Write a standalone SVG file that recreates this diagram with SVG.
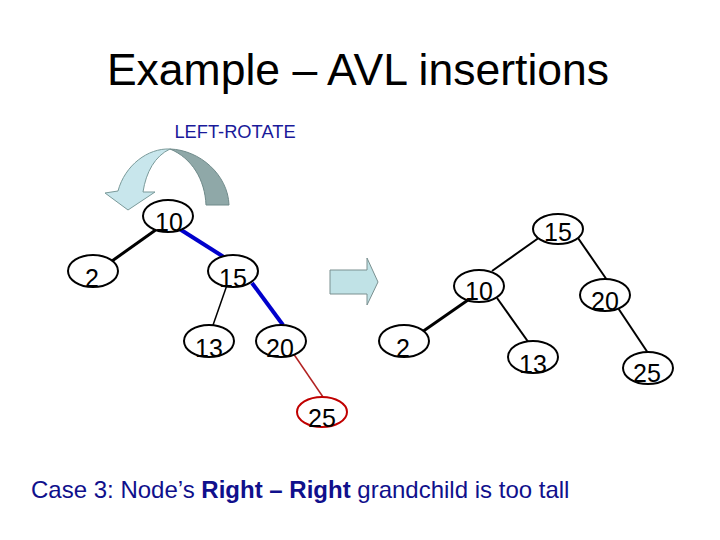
<svg xmlns="http://www.w3.org/2000/svg" width="720" height="540" viewBox="0 0 720 540">
<style>
text{font-family:"Liberation Sans",Arial,sans-serif}
.node ellipse{fill:#fff;stroke:#000;stroke-width:2}
.node text{font-size:25px;text-anchor:middle;fill:#000}
.red ellipse{stroke:#c00000}
.e{stroke:#000;stroke-width:2;fill:none}
</style>
<rect width="720" height="540" fill="#fff"/>
<text x="358" y="85" font-size="44.5" text-anchor="middle" fill="#000">Example – AVL insertions</text>
<text x="235" y="138" font-size="18.3" text-anchor="middle" fill="#1a1a9a">LEFT-ROTATE</text>
<g id="rotate-arrow">
<path d="M170,149 C200,150 228,175 229,205 L206,205 C205,180 192,158 170,149 Z" fill="#8fa8a8" stroke="#6f8a8a" stroke-width="1"/>
<path d="M170,149 C148,148 125,165 118,191 L105,193 L128,210 L155,192 L143,192 C146,172 155,156 170,149 Z" fill="#c8e6ec" stroke="#7a9a9a" stroke-width="1"/>
</g>
<g id="block-arrow">
<path d="M330,270 L367,270 L367,258 L378,282 L367,305 L367,294 L330,294 Z" fill="#c0e2e6" stroke="#7a9090" stroke-width="1"/>
</g>
<g id="connectors">
<line x1="157" y1="229" x2="112" y2="261" stroke="#000" stroke-width="3"/>
<line x1="178" y1="228" x2="227" y2="259" stroke="#0000cc" stroke-width="4"/>
<line x1="227" y1="285" x2="212" y2="328" stroke="#000" stroke-width="1.5"/>
<line x1="252" y1="283" x2="283" y2="325" stroke="#0000cc" stroke-width="4"/>
<line x1="293" y1="353" x2="323" y2="397" stroke="#b22222" stroke-width="1.5"/>
<line x1="540" y1="237" x2="492" y2="271" class="e"/>
<line x1="578" y1="238" x2="607" y2="280" class="e"/>
<line x1="468" y1="300" x2="422" y2="332" stroke="#000" stroke-width="3"/>
<line x1="497" y1="298" x2="529" y2="343" class="e"/>
<line x1="618" y1="308" x2="648" y2="353" class="e"/>
</g>
<g id="L10" class="node"><ellipse cx="168" cy="216" rx="25" ry="16"/><text x="169" y="231">10</text></g>
<g id="L2" class="node"><ellipse cx="93" cy="271" rx="25" ry="16"/><text x="92" y="287">2</text></g>
<g id="L15" class="node"><ellipse cx="233" cy="271" rx="25" ry="16"/><text x="233" y="287">15</text></g>
<g id="L13" class="node"><ellipse cx="209" cy="341" rx="25" ry="16"/><text x="209" y="357">13</text></g>
<g id="L20" class="node"><ellipse cx="281" cy="341" rx="25" ry="16"/><text x="280" y="357">20</text></g>
<g id="L25" class="node red"><ellipse cx="322" cy="412" rx="25" ry="15"/><text x="322" y="427">25</text></g>
<g id="R15" class="node"><ellipse cx="558" cy="229" rx="25" ry="15"/><text x="558" y="241">15</text></g>
<g id="R10" class="node"><ellipse cx="479" cy="286" rx="25" ry="16"/><text x="479" y="300">10</text></g>
<g id="R20" class="node"><ellipse cx="605" cy="295" rx="25" ry="16"/><text x="605" y="310">20</text></g>
<g id="R2" class="node"><ellipse cx="404" cy="341" rx="25" ry="16"/><text x="403" y="357">2</text></g>
<g id="R13" class="node"><ellipse cx="533" cy="357" rx="25" ry="16"/><text x="533" y="373">13</text></g>
<g id="R25" class="node"><ellipse cx="648" cy="368" rx="25" ry="16"/><text x="647" y="382">25</text></g>
<text x="31" y="498" font-size="24" fill="#10108c">Case 3: Node’s <tspan font-weight="bold">Right – Right</tspan> grandchild is too tall</text>
</svg>
